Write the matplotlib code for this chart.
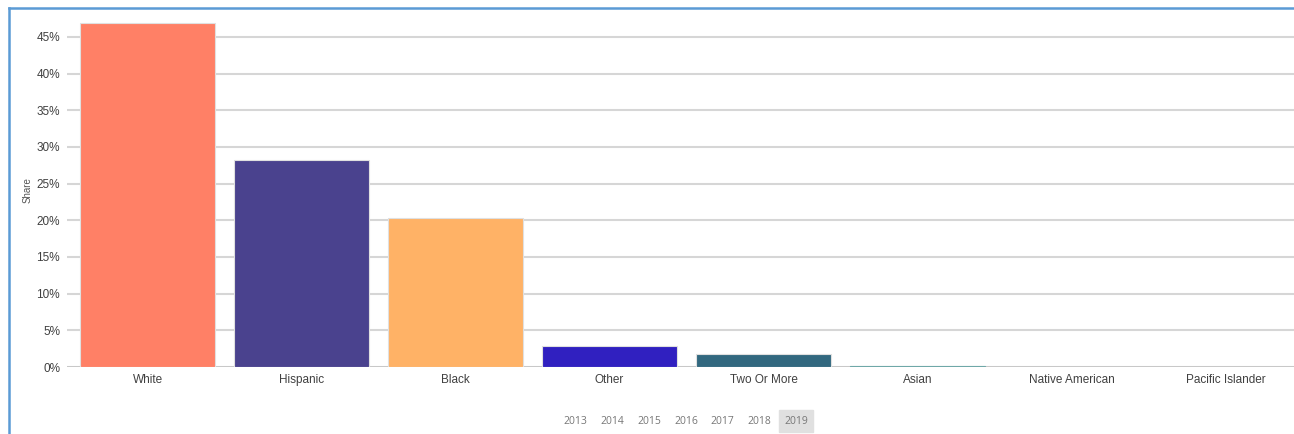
import matplotlib.pyplot as plt
from matplotlib.lines import Line2D
from matplotlib.patches import Rectangle
import numpy as np

categories = ['White', 'Hispanic', 'Black', 'Other', 'Two Or More', 'Asian',
              'Native American', 'Pacific Islander']
shares = [0.469, 0.282, 0.203, 0.029, 0.018, 0.002, 0.0, 0.0]
colors = ['#FF8066', '#4A428E', '#FFB266', '#3020C0', '#32687F', '#6FA8A8',
          'none', 'none']
edges = ['#e0e0e0', '#e0e0e0', '#e0e0e0', '#e0e0e0', '#e0e0e0', '#6FA8A8',
         'none', 'none']
years = ['2013', '2014', '2015', '2016', '2017', '2018', '2019']
yticks = np.arange(0, 0.46, 0.05)

plt.rcParams['font.family'] = ['Liberation Sans', 'DejaVu Sans']

fig = plt.figure(figsize=(12.94, 4.34), dpi=100)
ax = fig.add_axes([67/1294, (434-367)/434, (1294-67)/1294, (367-15)/434])

x = np.arange(len(categories))
ax.bar(x, shares, width=0.877, color=colors, edgecolor=edges,
       linewidth=0.8, zorder=3)

ax.set_xlim(-0.523, 7.445)
ax.set_ylim(0, 0.48)
ax.set_yticks(yticks)
ax.set_yticklabels([f'{int(round(v*100))}%' for v in yticks])
ax.set_xticks(x)
ax.set_xticklabels(categories)
ax.tick_params(axis='y', length=0, pad=5, labelsize=8.5, labelcolor='#404040')
ax.tick_params(axis='x', length=0, pad=5, labelsize=8.5, labelcolor='#404040')
ax.grid(axis='y', color='#d6d6d6', linewidth=1.5, zorder=0)
ax.set_axisbelow(True)
for s in ax.spines.values():
    s.set_visible(False)
ax.axhline(0, color='#c4c4c4', linewidth=1.8, zorder=2)

# axis title sits close to the tick labels
fig.text(28/1294, (434-190)/434, 'Share', rotation=90, ha='center',
         va='center', fontsize=7, color='#555555')

# year selector under the chart
yx = [575, 612, 649, 686, 722, 759, 796]
for yr, px in zip(years, yx):
    fx = px / 1294
    fy = (434 - 421.5) / 434
    if yr == '2019':
        fig.patches.append(Rectangle(((px - 17) / 1294, (434 - 432) / 434),
                                     34 / 1294, 22 / 434,
                                     transform=fig.transFigure,
                                     color='#e0e0e0', zorder=0))
    fig.text(fx, fy, yr, ha='center', va='center', fontsize=7.5,
             color='#777777', family=['Open Sans', 'DejaVu Sans'])

# blue frame on the left and top
fig.add_artist(Line2D([9/1294, 9/1294], [0, (434-8)/434],
                      color='#5B9BD5', linewidth=1.8))
fig.add_artist(Line2D([9/1294, 1], [(434-8)/434, (434-8)/434],
                      color='#5B9BD5', linewidth=1.8))

fig.savefig('out.png', dpi=100)
